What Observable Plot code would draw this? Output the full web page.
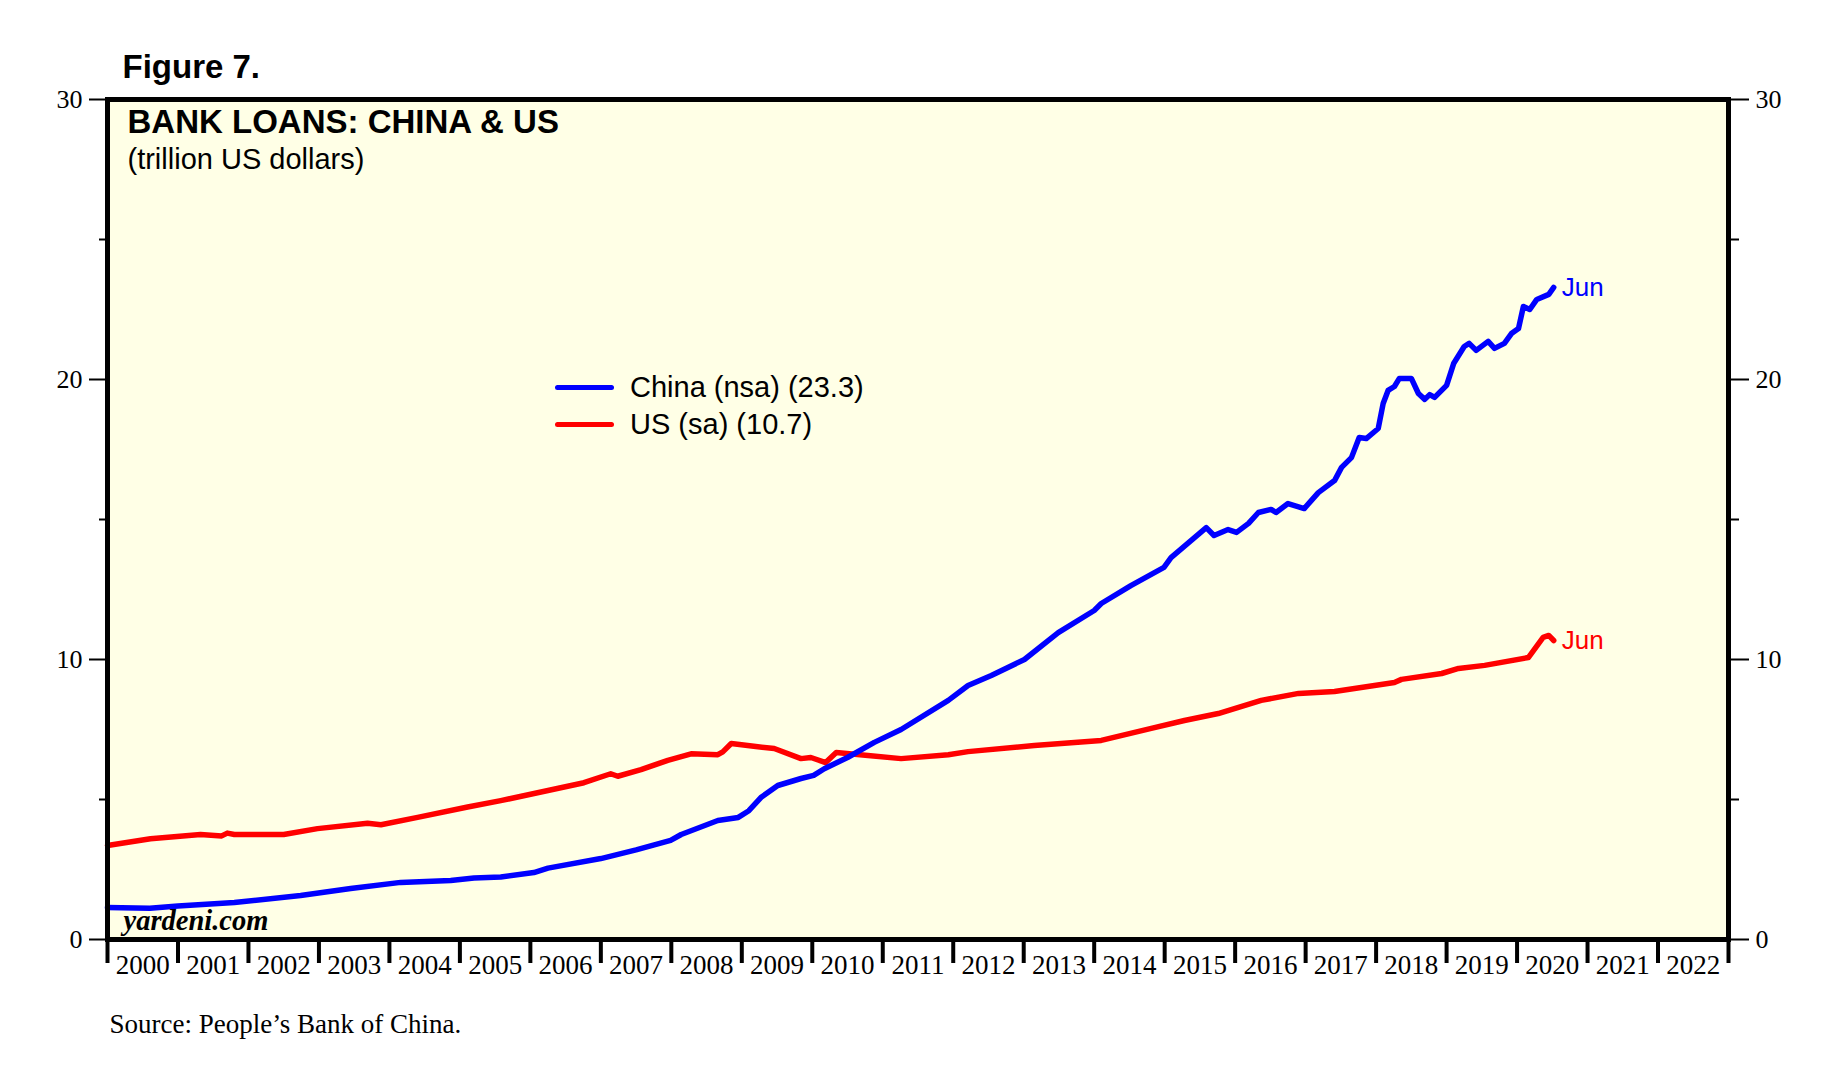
<!DOCTYPE html>
<html><head><meta charset="utf-8">
<script src="https://cdn.jsdelivr.net/npm/d3@7"></script>
<script src="https://cdn.jsdelivr.net/npm/@observablehq/plot@0.6"></script>
<style>
body{margin:0;background:#fff;}
#wrap{position:relative;width:1829px;height:1072px;}
#legend{position:absolute;left:555px;top:369px;font-family:"Liberation Sans",Arial,sans-serif;font-size:29px;color:#000;}
.row{display:flex;align-items:center;height:37px;white-space:nowrap;}
.sw{width:59px;height:5px;border-radius:3px;margin-right:16px;}
</style></head><body><div id="wrap"><div id="legend"></div></div>
<script>
const chinaYears = [2000.00,2000.60,2001.00,2001.80,2002.74,2003.45,2004.16,2004.87,2005.20,2005.58,2006.05,2006.25,2007.00,2007.50,2007.99,2008.14,2008.66,2008.95,2009.10,2009.27,2009.51,2009.84,2010.02,2010.17,2010.50,2010.88,2011.26,2011.93,2012.21,2012.54,2013.01,2013.49,2014.00,2014.10,2014.52,2014.99,2015.09,2015.59,2015.70,2015.90,2016.02,2016.19,2016.33,2016.51,2016.58,2016.75,2016.98,2017.18,2017.41,2017.51,2017.65,2017.76,2017.86,2018.03,2018.10,2018.17,2018.26,2018.33,2018.50,2018.60,2018.69,2018.76,2018.83,2019.00,2019.10,2019.25,2019.32,2019.42,2019.59,2019.68,2019.82,2019.92,2020.02,2020.09,2020.18,2020.28,2020.45,2020.52];
const chinaValues = [1.14,1.12,1.20,1.32,1.57,1.82,2.04,2.11,2.20,2.23,2.39,2.55,2.89,3.20,3.54,3.75,4.25,4.36,4.60,5.07,5.50,5.75,5.86,6.10,6.50,7.04,7.50,8.54,9.07,9.43,10.00,10.96,11.75,12.00,12.64,13.29,13.64,14.71,14.43,14.64,14.54,14.86,15.25,15.36,15.25,15.57,15.39,15.96,16.39,16.86,17.21,17.93,17.89,18.25,19.14,19.61,19.75,20.04,20.04,19.50,19.29,19.46,19.36,19.79,20.57,21.18,21.29,21.04,21.36,21.11,21.29,21.64,21.82,22.61,22.50,22.86,23.04,23.29];
const usYears = [2000.00,2000.61,2001.32,2001.62,2001.70,2001.80,2002.50,2002.98,2003.69,2003.88,2004.40,2005.11,2005.58,2006.25,2006.76,2007.14,2007.24,2007.57,2007.95,2008.28,2008.66,2008.73,2008.85,2009.17,2009.46,2009.84,2009.98,2010.19,2010.34,2010.79,2011.26,2011.93,2012.21,2013.15,2014.10,2014.81,2015.28,2015.76,2016.37,2016.90,2017.41,2018.26,2018.36,2018.93,2019.17,2019.54,2020.16,2020.37,2020.45,2020.52];
const usValues = [3.36,3.60,3.75,3.70,3.80,3.75,3.75,3.96,4.15,4.10,4.36,4.73,4.96,5.32,5.60,5.92,5.83,6.07,6.40,6.63,6.60,6.70,7.00,6.90,6.82,6.46,6.50,6.32,6.68,6.57,6.46,6.60,6.71,6.93,7.11,7.54,7.82,8.07,8.54,8.79,8.86,9.18,9.29,9.50,9.68,9.79,10.07,10.79,10.86,10.68];
const yearTicks = d3.range(2000, 2024);
const yearLabels = d3.range(2000, 2023);
const yMajor = [0, 10, 20, 30];
const yMinor = [5, 15, 25];
const seriesNames = ["China (nsa) (23.3)", "US (sa) (10.7)"];
const seriesColors = ["#0000ff", "#ff0000"];
const lastLabel = "Jun";
const figureLabel = "Figure 7.";
const titleText = "BANK LOANS: CHINA & US";
const subtitleText = "(trillion US dollars)";
const brandText = "yardeni.com";
const sourceText = "Source: People\u2019s Bank of China.";

const china = chinaYears.map((y, i) => ({year: y, value: chinaValues[i]}));
const us = usYears.map((y, i) => ({year: y, value: usValues[i]}));
const sans = "'Liberation Sans', Arial, sans-serif";
const serif = "'Liberation Serif', 'Times New Roman', serif";

const chart = Plot.plot({
  width: 1829, height: 1072,
  marginLeft: 107, marginRight: 101, marginTop: 99, marginBottom: 133,
  x: {domain: [2000, 2023], axis: null},
  y: {domain: [0, 30], axis: null},
  style: {fontFamily: serif, background: "#fff", overflow: "visible", color: "#000"},
  marks: [
    Plot.frame({fill: "#ffffe6", stroke: null}),
    Plot.line(us, {x: "year", y: "value", stroke: seriesColors[1], strokeWidth: 5.5, strokeLinejoin: "round", strokeLinecap: "round"}),
    Plot.line(china, {x: "year", y: "value", stroke: seriesColors[0], strokeWidth: 5.5, strokeLinejoin: "round", strokeLinecap: "round"}),
    Plot.text([china[china.length - 1]], {x: "year", y: "value", text: () => lastLabel, dx: 8, textAnchor: "start", fill: seriesColors[0], fontSize: 26, fontFamily: sans}),
    Plot.text([us[us.length - 1]], {x: "year", y: "value", text: () => lastLabel, dx: 8, textAnchor: "start", fill: seriesColors[1], fontSize: 26, fontFamily: sans}),
    Plot.frame({stroke: "#000", strokeWidth: 5}),
    Plot.axisY({anchor: "left", ticks: yMajor, tickSize: 18, tickPadding: 7, fontSize: 26, strokeWidth: 2, label: null, tickFormat: d => String(d)}),
    Plot.axisY({anchor: "left", ticks: yMinor, tickSize: 8, strokeWidth: 2, label: null, tickFormat: () => ""}),
    Plot.axisY({anchor: "right", ticks: yMajor, tickSize: 20, tickPadding: 7, fontSize: 26, strokeWidth: 2, label: null, tickFormat: d => String(d)}),
    Plot.axisY({anchor: "right", ticks: yMinor, tickSize: 10, strokeWidth: 2, label: null, tickFormat: () => ""}),
    Plot.axisX({anchor: "bottom", ticks: yearTicks, tickSize: 24, strokeWidth: 4, label: null, tickFormat: () => ""}),
    Plot.axisX({anchor: "bottom", ticks: yearLabels.map(d => d + 0.5), tickSize: 0, tickPadding: 15, fontSize: 27, label: null, tickFormat: d => String(Math.floor(d))}),
    Plot.text([figureLabel], {text: d => d, frameAnchor: "top-left", dx: 15, dy: -22, lineAnchor: "bottom", textAnchor: "start", fontSize: 33, fontWeight: "bold", fontFamily: sans, fill: "#000"}),
    Plot.text([titleText], {text: d => d, frameAnchor: "top-left", dx: 20, dy: 33, lineAnchor: "bottom", textAnchor: "start", fontSize: 33, fontWeight: "bold", fontFamily: sans, fill: "#000"}),
    Plot.text([subtitleText], {text: d => d, frameAnchor: "top-left", dx: 20, dy: 69, lineAnchor: "bottom", textAnchor: "start", fontSize: 29, fontFamily: sans, fill: "#000"}),
    Plot.text([brandText], {text: d => d, frameAnchor: "bottom-left", dx: 16, dy: -10, lineAnchor: "bottom", textAnchor: "start", fontSize: 28.5, fontWeight: "bold", fontStyle: "italic", fontFamily: serif, fill: "#000"}),
    Plot.text([sourceText], {text: d => d, frameAnchor: "bottom-left", dx: 2, dy: 93, lineAnchor: "bottom", textAnchor: "start", fontSize: 27, fontFamily: serif, fill: "#000"})
  ]
});
const wrap = document.getElementById("wrap");
wrap.insertBefore(chart, wrap.firstChild);
const legend = document.getElementById("legend");
seriesNames.forEach((name, i) => {
  const row = document.createElement("div");
  row.className = "row";
  const sw = document.createElement("div");
  sw.className = "sw";
  sw.style.background = seriesColors[i];
  const t = document.createElement("span");
  t.textContent = name;
  row.appendChild(sw); row.appendChild(t);
  legend.appendChild(row);
});
</script>
</body></html>
